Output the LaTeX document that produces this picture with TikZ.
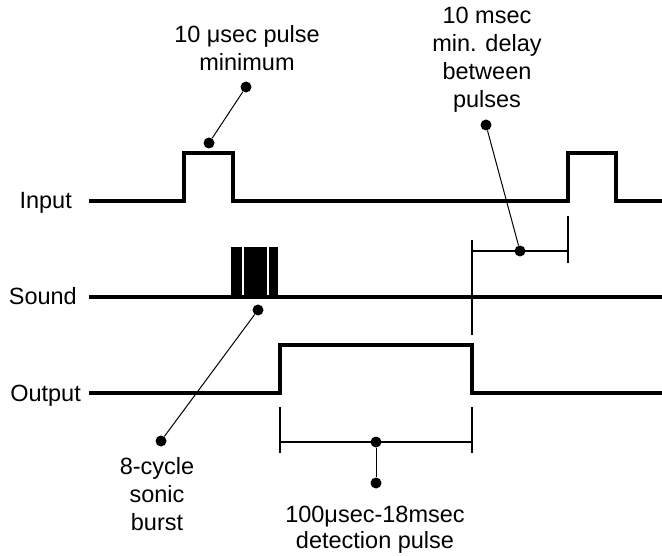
\documentclass[tikz,border=0pt]{standalone}
\usepackage{fontspec}
\setmainfont{Liberation Sans}
\begin{document}
\begin{tikzpicture}[x=1pt,y=-1pt,
  wave/.style={line width=3.2pt, line join=miter},
  dim/.style={line width=1.2pt},
  lead/.style={line width=1pt},
  dot/.style={circle, fill=black, inner sep=0pt, minimum size=11pt},
  lbl/.style={font=\fontsize{23.5}{28}\selectfont, align=center, inner sep=0pt},
  sig/.style={font=\fontsize{23.5}{28}\selectfont, inner sep=0pt, anchor=base east}]
\useasboundingbox (0,0) rectangle (662,556);

% signal labels
\node[sig] (lin) at (72,209) {Input};
\node[sig] (lsnd) at (77,305) {Sound};
\node[sig] (lout) at (81,401) {Output};

% waveforms
\draw[wave] (89,201) -- (184,201) -- (184,153) -- (233,153) -- (233,201)
  -- (568,201) -- (568,153) -- (616,153) -- (616,201) -- (662,201);
\draw[wave] (89,297) -- (662,297);
\fill (231,247) rectangle (242,297);
\fill (244,247) rectangle (266.5,297);
\fill (268.5,247) rectangle (278,297);
\draw[wave] (89,393) -- (280,393) -- (280,345) -- (472,345) -- (472,393) -- (662,393);

% delay dimension
\draw[dim] (472,240) -- (472,335);
\draw[dim] (568,216) -- (568,263);
\draw[dim] (472,251) -- (568,251);
\node[dot] (dd1) at (520,251) {};
\node[dot] (dd2) at (486,125) {};
\draw[lead] (dd1) -- (dd2);

% detection dimension
\draw[dim] (280,407) -- (280,453);
\draw[dim] (472,407) -- (472,453);
\draw[dim] (280,442) -- (472,442);
\node[dot] (de1) at (376,442) {};
\node[dot] (de2) at (376,483) {};
\draw[lead] (de1) -- (de2);

% pulse leader
\node[dot] (dp1) at (209,143) {};
\node[dot] (dp2) at (246,87) {};
\draw[lead] (dp1) -- (dp2);

% burst leader
\node[dot] (db1) at (258,310) {};
\node[dot] (db2) at (161,441) {};
\draw[lead] (db1) -- (db2);

% texts
\node[lbl, anchor=north] (t1) at (247,25) {10 μsec pulse\\minimum};
\node[lbl, anchor=north] (t2) at (487,7) {10 msec\\min. delay\\between\\pulses};
\node[lbl, anchor=north] (t3) at (157,457) {8-cycle\\sonic\\burst};
\node[lbl, anchor=north, font=\fontsize{23.5}{26}\selectfont] (t4) at (375,506) {100μsec-18msec\\detection pulse};
\end{tikzpicture}
\end{document}
